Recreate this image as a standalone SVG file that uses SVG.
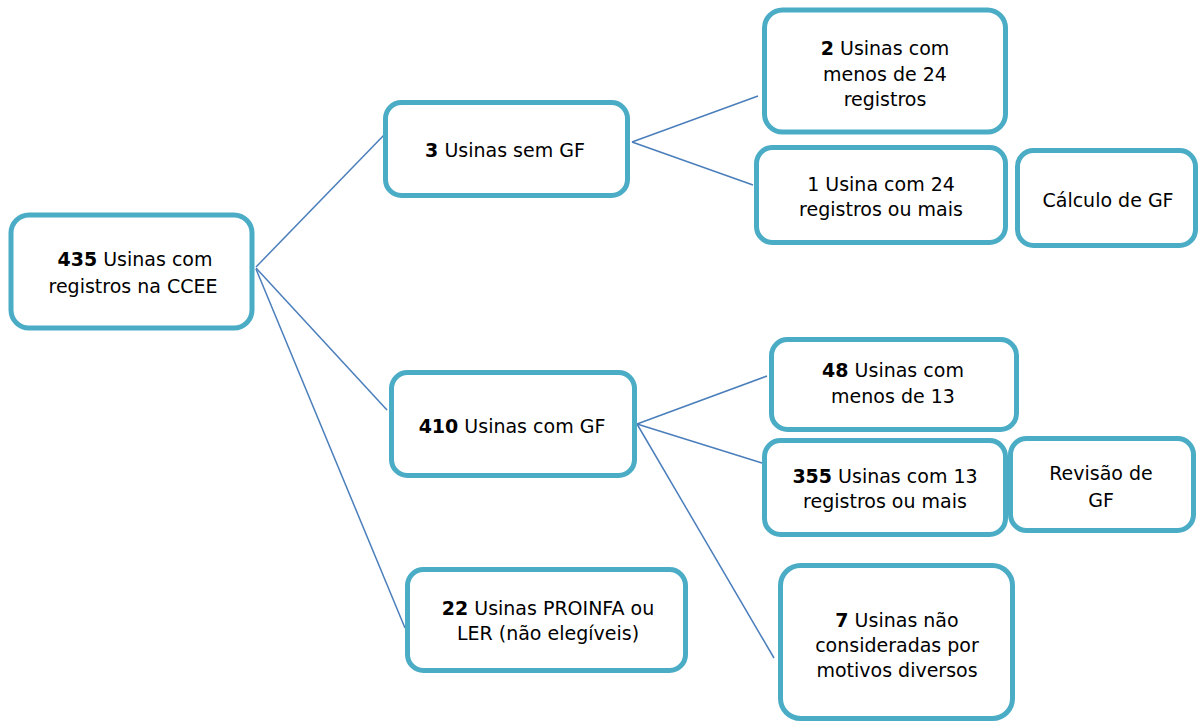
<svg xmlns="http://www.w3.org/2000/svg" width="1198" height="722" viewBox="0 0 1198 722">
<style>
.box{fill:#fff;stroke:#4BACC6;stroke-width:5}
.t{font-family:"DejaVu Sans","Liberation Sans",sans-serif;font-size:19px;fill:#000;text-anchor:middle}
.b{font-weight:bold}
.c{stroke:#4A7EBB;stroke-width:1.5;fill:none}
</style>
<rect width="1198" height="722" fill="#fff"/>
<g id="connectors">
<line class="c" x1="256" y1="267" x2="385" y2="134"/>
<line class="c" x1="256" y1="268" x2="387" y2="410"/>
<line class="c" x1="256" y1="269" x2="405" y2="628"/>
<line class="c" x1="632" y1="142" x2="758" y2="96"/>
<line class="c" x1="632" y1="142" x2="753" y2="185"/>
<line class="c" x1="637" y1="424" x2="767" y2="376"/>
<line class="c" x1="637" y1="424" x2="762" y2="463"/>
<line class="c" x1="637" y1="424" x2="774" y2="658"/>
</g>
<g id="n435">
<rect class="box" x="11" y="215" width="241" height="113" rx="18"/>
<text class="t" x="135" y="266"><tspan class="b">435</tspan> Usinas com</text>
<text class="t" x="133" y="293">registros na CCEE</text>
</g>
<g id="n3">
<rect class="box" x="385.5" y="102.5" width="242" height="93" rx="16"/>
<text class="t" x="505" y="157"><tspan class="b">3</tspan> Usinas sem GF</text>
</g>
<g id="n2">
<rect class="box" x="764.5" y="10" width="241" height="122" rx="18"/>
<text class="t" x="885" y="55"><tspan class="b">2</tspan> Usinas com</text>
<text class="t" x="885" y="81">menos de 24</text>
<text class="t" x="885" y="106">registros</text>
</g>
<g id="n1">
<rect class="box" x="756.5" y="147.5" width="249" height="95" rx="16"/>
<text class="t" x="881" y="191">1 Usina com 24</text>
<text class="t" x="881" y="216">registros ou mais</text>
</g>
<g id="calculo">
<rect class="box" x="1017.5" y="150.5" width="178" height="95" rx="16"/>
<text class="t" x="1108" y="207">Cálculo de GF</text>
</g>
<g id="n410">
<rect class="box" x="391.5" y="372.5" width="243" height="103" rx="16"/>
<text class="t" x="512" y="433"><tspan class="b">410</tspan> Usinas com GF</text>
</g>
<g id="n48">
<rect class="box" x="771.5" y="339.5" width="245" height="90" rx="16"/>
<text class="t" x="893" y="377"><tspan class="b">48</tspan> Usinas com</text>
<text class="t" x="893" y="403">menos de 13</text>
</g>
<g id="n355">
<rect class="box" x="764.5" y="440.5" width="241" height="94" rx="16"/>
<text class="t" x="885" y="483"><tspan class="b">355</tspan> Usinas com 13</text>
<text class="t" x="885" y="508">registros ou mais</text>
</g>
<g id="revisao">
<rect class="box" x="1010.5" y="438.5" width="183" height="92" rx="16"/>
<text class="t" x="1101" y="480">Revisão de</text>
<text class="t" x="1101" y="507">GF</text>
</g>
<g id="n22">
<rect class="box" x="407.5" y="569.5" width="278" height="101" rx="16"/>
<text class="t" x="548" y="615"><tspan class="b">22</tspan> Usinas PROINFA ou</text>
<text class="t" x="548" y="640">LER (não elegíveis)</text>
</g>
<g id="n7">
<rect class="box" x="780.5" y="565.5" width="232" height="153" rx="20"/>
<text class="t" x="897" y="627"><tspan class="b">7</tspan> Usinas não</text>
<text class="t" x="897" y="652">consideradas por</text>
<text class="t" x="897" y="677">motivos diversos</text>
</g>
</svg>
